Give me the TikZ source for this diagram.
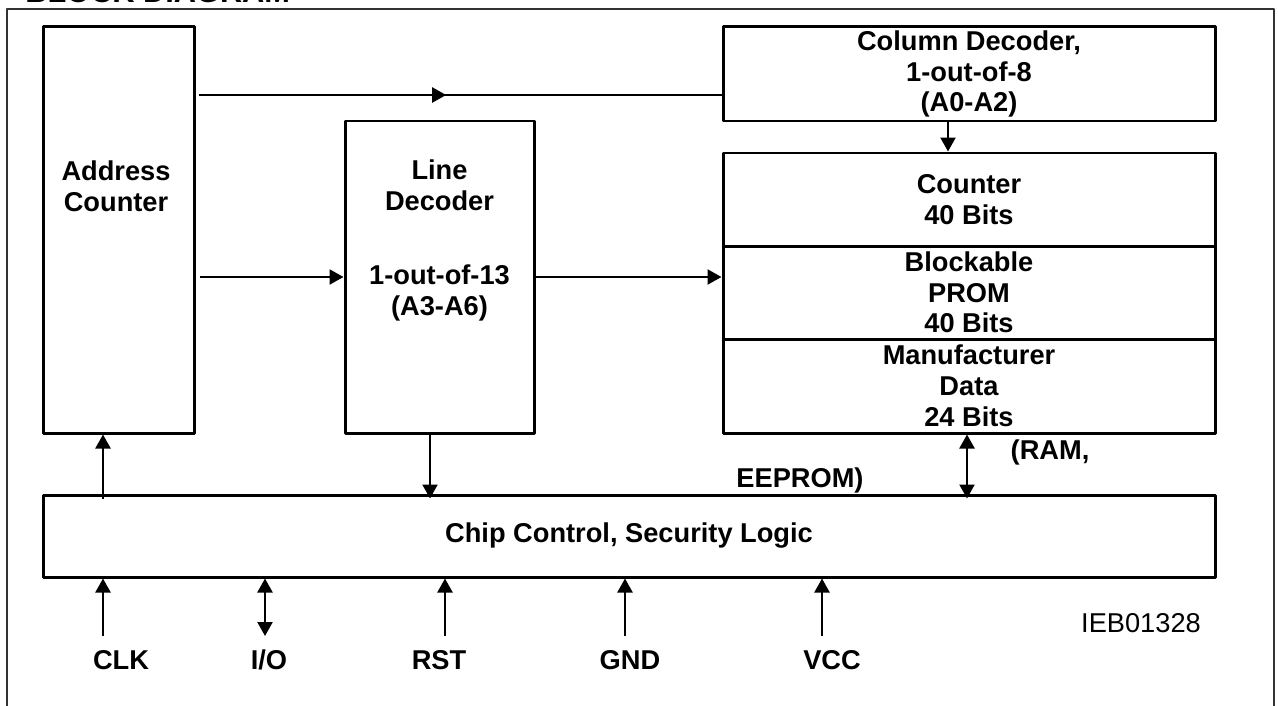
\documentclass[tikz,border=0pt]{standalone}
\usepackage{fontspec}
\setmainfont{Liberation Sans}
\usetikzlibrary{arrows.meta,calc,fit,decorations.markings}

\begin{document}
\begin{tikzpicture}[x=0.02cm, y=-0.02cm, font=\fontsize{15.5}{17.5}\selectfont\bfseries, line join=round,
    >={Triangle[length=0.28cm,width=0.3cm]},
    blk/.style={draw, line width=0.06cm, inner sep=0pt},
    txt/.style={align=center, inner sep=0pt},
    wire/.style={line width=0.045cm},
    midarrow/.style={wire, postaction={decorate}, decoration={markings, mark=at position #1 with {\arrow{>}}}}]
    \useasboundingbox (0,0) rectangle (1278,706);
    \draw[line width=0.04cm, black!80] (7,9) rectangle (1274,730);
    \node[anchor=base west, inner sep=0pt, font=\fontsize{17.5}{20}\selectfont\bfseries] (title) at (25,3) {BLOCK DIAGRAM};

    \node[blk, fit={(43,27) (194,433)}] (ac) {};
    \node[txt] (actxt) at (116,186) {Address\\Counter};
    \node[blk, fit={(345,121) (534,433)}] (ld) {};
    \node[txt] (ldtxt) at (439.5,185) {Line\\Decoder};
    \node[txt] (ldsel) at (439.5,293) {1-out-of-13\\(A3-A6)};
    \node[blk, fit={(723,27) (1215,121)}] (cd) {};
    \node[txt] (cdtxt) at (cd) {Column Decoder,\\1-out-of-8\\(A0-A2)};
    \node[blk, fit={(723,153) (1215,246)}] (ctr) {};
    \node[txt] (ctrtxt) at (ctr) {Counter\\40 Bits};
    \node[blk, fit={(723,246) (1215,339)}] (prom) {};
    \node[txt] (promtxt) at (prom) {Blockable\\PROM\\40 Bits};
    \node[blk, fit={(723,339) (1215,433)}] (mfr) {};
    \node[txt] (mfrtxt) at (mfr) {Manufacturer\\Data\\24 Bits};
    \node[blk, fit={(43,495) (1215,577)}] (cc) {};
    \node[txt] (cctxt) at (cc) {Chip Control, Security Logic};

    \coordinate (atop) at (199,95);
    \draw[midarrow=0.473] (atop) -- (atop -| cd.west);
    \draw[wire, ->] ($(ac.east |- ld.west)+(4,0)$) -- (ld.west);
    \draw[wire, ->] (ld.east) -- (ld.east -| prom.west);
    \draw[wire, ->] ($(cd.south)+(-21,0)$) -- ($(ctr.north)+(-21,0)$);

    \node (ram) at (1050,452) {(RAM,};
    \node (eeprom) at (800,480) {EEPROM)};
    \draw[wire, <->, shorten >=-0.1cm] ($(mfr.south)+(-2,0)$) -- ($(mfr.south |- cc.north)+(-2,0)$);
    \draw[wire, ->, shorten >=-0.1cm] ($(ld.south)+(-9.5,0)$) -- ($(ld.south |- cc.north)+(-9.5,0)$);

    \coordinate (pclk) at (103,636);
    \coordinate (pio) at (265,636);
    \coordinate (prst) at (445,636);
    \coordinate (pgnd) at (625,636);
    \coordinate (pvcc) at (822,636);
    \draw[wire, ->] ($(cc.north -| pclk)+(0,5)$) -- (ac.south -| pclk);
    \draw[wire, ->] (pclk) -- (pclk |- cc.south);
    \draw[wire, <->] (pio) -- (pio |- cc.south);
    \draw[wire, ->] (prst) -- (prst |- cc.south);
    \draw[wire, ->] (pgnd) -- (pgnd |- cc.south);
    \draw[wire, ->] (pvcc) -- (pvcc |- cc.south);

    \node (clk) at (121,660) {CLK};
    \node (io) at (269,660) {I/O};
    \node (rst) at (439,660) {RST};
    \node (gnd) at (630,660) {GND};
    \node (vcc) at (832,660) {VCC};
    \node[font=\fontsize{15.5}{17.5}\selectfont] (ieb) at (1141,623) {IEB01328};
\end{tikzpicture}
\end{document}
